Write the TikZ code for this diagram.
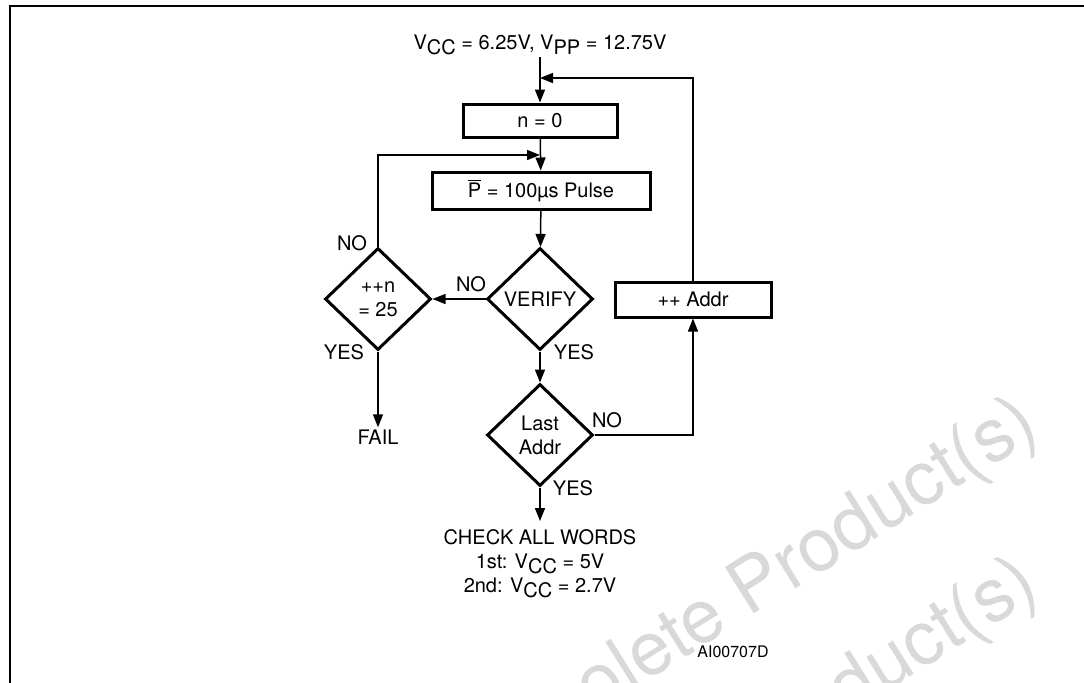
\documentclass[tikz,border=0pt]{standalone}
\usepackage{fontspec}
\setmainfont{TeX Gyre Heros}
\usepackage{tikz}
\usetikzlibrary{arrows.meta,positioning,shapes.geometric}
\newcommand{\lowsub}[1]{\raisebox{-2.5pt}{#1}}
\tikzset{
  txt/.style     = {font=\fontsize{10}{12}\selectfont, inner sep=1pt, align=center},
  stepbox/.style = {rectangle, draw, line width=1.5pt, txt, inner sep=0pt},
  test/.style    = {diamond, draw, line width=1.5pt, txt, inner sep=0pt,
                    minimum width=53pt, minimum height=51pt},
  fl/.style      = {-{Triangle[length=6.5pt,width=5pt]}, line width=0.75pt},
  wm/.style      = {text=black!15, inner sep=0pt,
                    font=\fontsize{37.5}{40}\selectfont},
}

\begin{document}
\begin{tikzpicture}[x=0.5pt,y=-0.5pt]
    \useasboundingbox (0,0) rectangle (1084,682);
    % watermark
    \node[wm, rotate=32, anchor=base west] (wm1) at (478,787) {Obsolete Product(s)};
    \node[wm, rotate=32, anchor=base west] (wm2) at (478,947) {Obsolete Product(s)};
    % frame
    \draw[line width=1.25pt] (10,6) rectangle (1110,720);
    % steps
    \node[txt] (vcc) at (540,45) {V\lowsub{CC} = 6.25V, V\lowsub{PP} = 12.75V};
    \coordinate (j1) at (540,78);
    \node[stepbox, minimum width=77pt, minimum height=16.5pt] (n0) at (540,120.5) {n = 0};
    \coordinate (j2) at (540,155);
    \node[stepbox, minimum width=109pt, minimum height=18.5pt] (pulse) at (541,190.5)
      {$\overline{\mbox{P}}$ = 100\textmu s Pulse};
    \node[test] (verify) at (540,299) {VERIFY};
    \node[test] (inc) at (378,299) {++n\\= 25};
    \node[stepbox, minimum width=78pt, minimum height=17.5pt] (addr) at (693,299.5) {++ Addr};
    \node[test] (last) at (540,435) {Last\\Addr};
    \node[txt] (fail) at (378,437) {FAIL};
    \coordinate (endp) at (540,521);
    \node[txt] (check) at (540,564) {CHECK ALL WORDS\\1st: V\lowsub{CC} = 5V\\2nd: V\lowsub{CC} = 2.7V};
    \node[txt, font=\fontsize{8}{10}\selectfont] (ref) at (733,652) {AI00707D};
    % labels
    \node[txt] (noinc)   at (352,243) {NO};
    \node[txt] (yesinc)  at (344,352) {YES};
    \node[txt] (nover)   at (471,284) {NO};
    \node[txt] (yesver)  at (574,352) {YES};
    \node[txt] (nolast)  at (607,420) {NO};
    \node[txt] (yeslast) at (573,488) {YES};
    % main flow
    \draw[fl] (vcc.south) -- (n0.north);
    \draw[fl] (n0) -- (pulse);
    \draw[fl] (pulse) -- (verify);
    \draw[fl] (verify) -- (last);
    \draw[fl] (last.south) -- (endp);
    % branches
    \draw[fl] (verify.west) -- (inc.east);
    \draw[fl] (inc.south) -- (fail.north);
    \draw[fl] (inc.north) |- (j2);
    \draw[fl] (last.east) -| (addr.south);
    \draw[fl] (addr.north) |- (j1);
\end{tikzpicture}
\end{document}
